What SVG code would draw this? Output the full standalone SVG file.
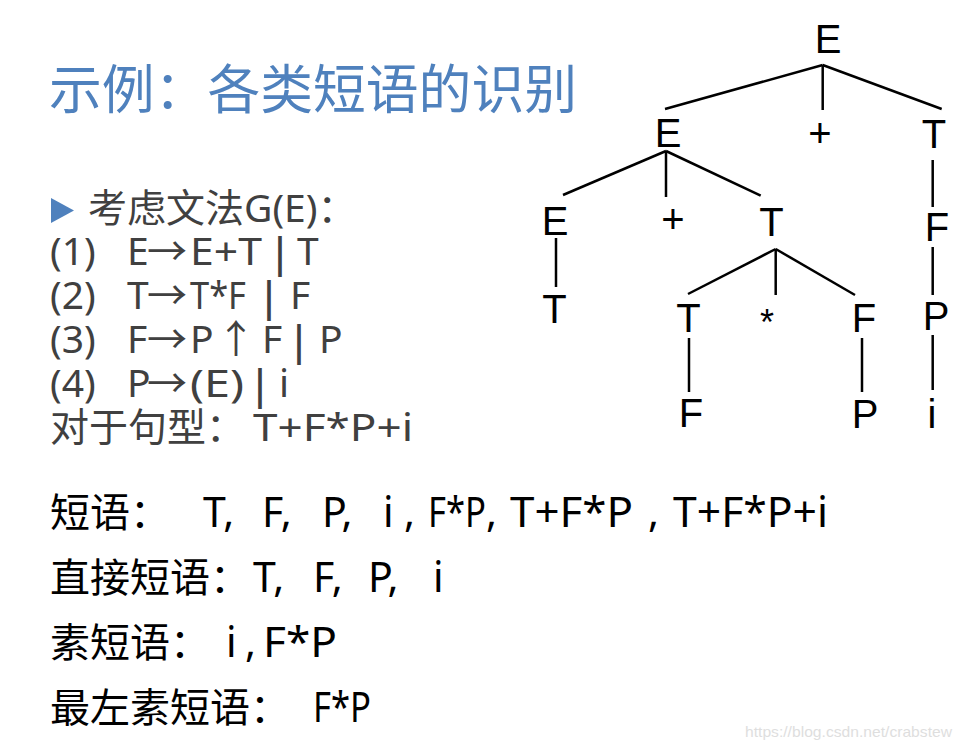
<svg xmlns="http://www.w3.org/2000/svg" width="961" height="746" viewBox="0 0 961 746">
<style>
.title{font-family:"Noto Sans CJK SC","Noto Sans",sans-serif;font-size:53px;fill:#4f81bd}
.g{font-family:"Noto Sans","Noto Sans CJK SC",sans-serif;font-size:39px;fill:#404040}
.p{font-family:"Liberation Sans",Arial,sans-serif;font-size:44px;fill:#404040;text-anchor:middle}
.b{font-family:"Noto Sans","Noto Sans CJK SC",sans-serif;font-size:41px;fill:#000}
.bc{font-family:"Noto Sans CJK SC",sans-serif;font-size:40px;fill:#000}
.t{font-family:"Liberation Sans",Arial,sans-serif;font-size:40px;fill:#000;text-anchor:middle}
.e{stroke:#000;stroke-width:2.5;fill:none;stroke-linecap:butt}
.wm{font-family:"Liberation Sans",Arial,sans-serif;font-size:15px;fill:#dedede}
</style>
<rect width="961" height="746" fill="#fff"/>

<g id="title">
<text class="title" x="49" y="109" textLength="528" lengthAdjust="spacingAndGlyphs">示例：各类短语的识别</text>
</g>

<g id="grammar">
<polygon points="51,198 74,210.5 51,223" fill="#4f81bd"/>
<text class="g" x="88" y="222">考虑文法G(E)：</text>
<text class="g" x="50" y="265">(1)</text>
<text class="g" x="127" y="265">E</text>
<text class="g" x="147" y="265" textLength="40" lengthAdjust="spacingAndGlyphs">→</text>
<text class="g" x="190" y="265" textLength="72" lengthAdjust="spacingAndGlyphs">E+T</text>
<text class="p" x="280" y="268">|</text>
<text class="g" x="297" y="265">T</text>

<text class="g" x="50" y="309">(2)</text>
<text class="g" x="127" y="309">T</text>
<text class="g" x="147" y="309" textLength="40" lengthAdjust="spacingAndGlyphs">→</text>
<text class="g" x="190" y="309" textLength="56" lengthAdjust="spacingAndGlyphs">T*F</text>
<text class="p" x="269" y="312">|</text>
<text class="g" x="290" y="309">F</text>

<text class="g" x="50" y="353">(3)</text>
<text class="g" x="127" y="353">F</text>
<text class="g" x="147" y="353" textLength="40" lengthAdjust="spacingAndGlyphs">→</text>
<text class="g" x="190" y="353">P</text>
<text class="g" x="236" y="353" text-anchor="middle">↑</text>
<text class="g" x="262" y="353">F</text>
<text class="p" x="299" y="356">|</text>
<text class="g" x="319" y="353">P</text>

<text class="g" x="50" y="397">(4)</text>
<text class="g" x="127" y="397">P</text>
<text class="g" x="147" y="397" textLength="40" lengthAdjust="spacingAndGlyphs">→</text>
<text class="g" x="190" y="397" textLength="54" lengthAdjust="spacingAndGlyphs">(E)</text>
<text class="p" x="260" y="400">|</text>
<text class="g" x="279" y="397">i</text>

<text class="g" x="50" y="441">对于句型：</text>
<text class="g" x="253" y="441" textLength="160" lengthAdjust="spacingAndGlyphs">T+F*P+i</text>
</g>

<g id="connectors">
<line class="e" x1="822.7" y1="65" x2="665" y2="109"/>
<line class="e" x1="822.7" y1="65" x2="822.7" y2="110"/>
<line class="e" x1="822.7" y1="65" x2="941.7" y2="109"/>
<line class="e" x1="666" y1="151" x2="563" y2="195"/>
<line class="e" x1="666" y1="151" x2="666" y2="197"/>
<line class="e" x1="666" y1="151" x2="760.7" y2="195.7"/>
<line class="e" x1="932.7" y1="160" x2="932.7" y2="207"/>
<line class="e" x1="556" y1="238" x2="556" y2="287"/>
<line class="e" x1="775.7" y1="249" x2="688" y2="294"/>
<line class="e" x1="775.7" y1="249" x2="775.7" y2="295"/>
<line class="e" x1="775.7" y1="249" x2="855" y2="295"/>
<line class="e" x1="932.7" y1="247" x2="932.7" y2="295"/>
<line class="e" x1="689" y1="338" x2="689" y2="392"/>
<line class="e" x1="862" y1="338" x2="862" y2="392"/>
<line class="e" x1="932.7" y1="335" x2="932.7" y2="390"/>
</g>

<g id="n-E1"><text class="t" x="828" y="53">E</text></g>
<g id="n-E2"><text class="t" x="668" y="147">E</text></g>
<g id="n-plus1"><text class="t" x="820" y="147">+</text></g>
<g id="n-T1"><text class="t" x="934" y="148">T</text></g>
<g id="n-E3"><text class="t" x="555" y="235">E</text></g>
<g id="n-plus2"><text class="t" x="673" y="233">+</text></g>
<g id="n-T2"><text class="t" x="771.5" y="236">T</text></g>
<g id="n-F1"><text class="t" x="937" y="241">F</text></g>
<g id="n-T3"><text class="t" x="554.5" y="323">T</text></g>
<g id="n-T4"><text class="t" x="688.5" y="332">T</text></g>
<g id="n-star"><text class="t" x="767" y="335" style="font-size:36px">*</text></g>
<g id="n-F2"><text class="t" x="864" y="332">F</text></g>
<g id="n-P1"><text class="t" x="936" y="330">P</text></g>
<g id="n-F3"><text class="t" x="691" y="427">F</text></g>
<g id="n-P2"><text class="t" x="865" y="428">P</text></g>
<g id="n-i"><text class="t" x="932" y="428">i</text></g>

<g id="results">
<text class="bc" x="50" y="527">短语：</text>
<text class="b" x="203" y="527">T,</text>
<text class="b" x="262" y="527">F,</text>
<text class="b" x="322" y="527">P,</text>
<text class="b" x="383" y="527">i</text>
<text class="b" x="404" y="527">,</text>
<text class="b" x="428" y="527" textLength="58" lengthAdjust="spacingAndGlyphs">F*P</text>
<text class="b" x="486" y="527">,</text>
<text class="b" x="510" y="527" textLength="123" lengthAdjust="spacingAndGlyphs">T+F*P</text>
<text class="b" x="648" y="527">,</text>
<text class="b" x="673" y="527" textLength="155" lengthAdjust="spacingAndGlyphs">T+F*P+i</text>

<text class="bc" x="50" y="592">直接短语：</text>
<text class="b" x="253" y="592">T,</text>
<text class="b" x="313" y="592">F,</text>
<text class="b" x="368" y="592">P,</text>
<text class="b" x="433" y="592">i</text>

<text class="bc" x="50" y="657">素短语：</text>
<text class="b" x="226" y="657">i</text>
<text class="b" x="245" y="657">,</text>
<text class="b" x="263" y="657" textLength="74" lengthAdjust="spacingAndGlyphs">F*P</text>

<text class="bc" x="50" y="722">最左素短语：</text>
<text class="b" x="313" y="722" textLength="58" lengthAdjust="spacingAndGlyphs">F*P</text>
</g>

<text class="wm" x="745" y="737" textLength="207" lengthAdjust="spacingAndGlyphs">https://blog.csdn.net/crabstew</text>
</svg>
